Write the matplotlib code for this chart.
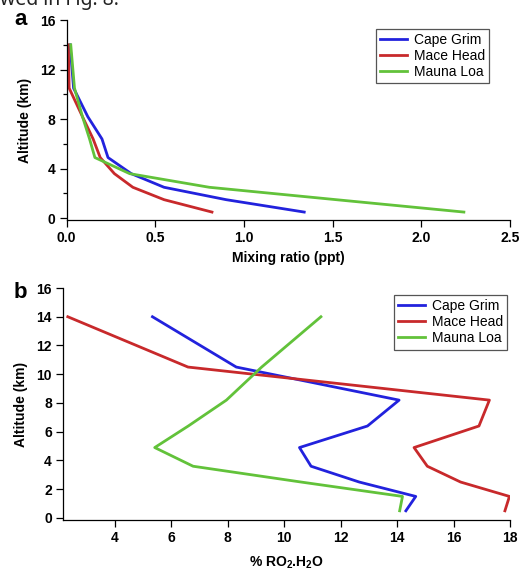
import numpy as np
import matplotlib
matplotlib.use('Agg')
import matplotlib.pyplot as plt

plt.rcParams['font.family'] = ['Liberation Sans', 'DejaVu Sans']
plt.rcParams['font.weight'] = 'bold'
plt.rcParams['axes.labelweight'] = 'bold'
plt.rcParams['mathtext.fontset'] = 'custom'
plt.rcParams['mathtext.bf'] = 'Liberation Sans:bold'
plt.rcParams['mathtext.rm'] = 'Liberation Sans:bold'

# altitude levels (km)
altitude = [0.5, 1.5, 2.5, 3.6, 4.9, 6.4, 8.2, 10.5, 14.0]
sites = ['Cape Grim', 'Mace Head', 'Mauna Loa']
colors = ['#2222dd', '#c8292b', '#62c23a']

# panel a: mixing ratio (ppt)
mix_cape = [1.34, 0.90, 0.55, 0.365, 0.234, 0.20, 0.12, 0.04, 0.02]
mix_mace = [0.82, 0.55, 0.374, 0.27, 0.19, 0.15, 0.09, 0.015, 0.01]
mix_mauna = [2.24, 1.52, 0.805, 0.356, 0.16, 0.13, 0.09, 0.045, 0.024]

# panel b: % RO2.H2O
pct_cape = [14.31, 14.66, 12.66, 10.95, 10.54, 12.95, 14.07, 8.3, 5.33]
pct_mace = [17.82, 17.98, 16.25, 15.07, 14.6, 16.9, 17.27, 6.59, 2.33]
pct_mauna = [14.09, 14.19, 10.6, 6.77, 5.41, 6.6, 7.95, 9.2, 11.3]

fig = plt.figure(figsize=(5.22, 5.73), dpi=100)

# clipped caption text at the very top
fig.text(0.0, 1 - 5/573, 'wed in Fig. 8.', fontsize=14, fontweight='normal',
         family=['Noto Sans', 'DejaVu Sans'], va='baseline', ha='left', color='#222222')

def style(ax):
    for s in ['top', 'right']:
        ax.spines[s].set_visible(False)
    ax.spines['left'].set_linewidth(0.9)
    ax.spines['bottom'].set_linewidth(0.9)
    ax.tick_params(direction='out', length=5, width=0.9, labelsize=10, pad=3)
    ax.tick_params(which='minor', direction='out', length=3, width=0.9)
    plt.setp(ax.get_xticklabels() + ax.get_yticklabels(), fontweight='bold')

def add_legend(ax, anchor):
    leg = ax.legend(loc='upper right', bbox_to_anchor=anchor,
                    prop={'weight': 'normal', 'size': 10}, fancybox=False,
                    framealpha=1, edgecolor='#555555', handlelength=2.0,
                    borderpad=0.3, labelspacing=0.15, handletextpad=0.45,
                    borderaxespad=0)
    leg.get_frame().set_linewidth(0.9)

# panel a
ax1 = fig.add_axes([66.5/522, 1 - 220/573, 443.5/522, 200/573])
for x, c, n in zip([mix_cape, mix_mace, mix_mauna], colors, sites):
    ax1.plot(x, altitude, color=c, lw=2.0, label=n)
ax1.set_xlim(0, 2.5)
ax1.set_ylim(-0.14, 16)
ax1.set_xticks(np.arange(0, 2.51, 0.5))
ax1.set_xticklabels(['0.0', '0.5', '1.0', '1.5', '2.0', '2.5'])
ax1.set_yticks([0, 4, 8, 12, 16])
ax1.set_yticks([2, 6, 10, 14], minor=True)
style(ax1)
ax1.set_xlabel('Mixing ratio (ppt)', fontsize=10, fontweight='bold', labelpad=4)
ax1.set_ylabel('Altitude (km)', fontsize=10, fontweight='bold', labelpad=6)
add_legend(ax1, (1.0 - 21/443.5, 1.0 - 9/200))
fig.text(14/522, 1 - 25/573, 'a', fontsize=16, fontweight='bold', ha='left', va='baseline')

# panel b
ax2 = fig.add_axes([63/522, 1 - 520/573, 447/522, 232/573])
for x, c, n in zip([pct_cape, pct_mace, pct_mauna], colors, sites):
    ax2.plot(x, altitude, color=c, lw=2.0, label=n)
ax2.set_xlim(2.16, 18)
ax2.set_ylim(-0.14, 16)
ax2.set_xticks(np.arange(4, 18.1, 2))
ax2.set_yticks(np.arange(0, 16.1, 2))
style(ax2)
ax2.set_xlabel(r'% RO$_{\mathbf{2}}$.H$_{\mathbf{2}}$O', fontsize=10, fontweight='bold', labelpad=7)
ax2.set_ylabel('Altitude (km)', fontsize=10, fontweight='bold', labelpad=6)
add_legend(ax2, (1.0 - 3/447, 1.0 - 7/232))
fig.text(14/522, 1 - 298/573, 'b', fontsize=16, fontweight='bold', ha='left', va='baseline')

fig.savefig('out.png', dpi=100)
